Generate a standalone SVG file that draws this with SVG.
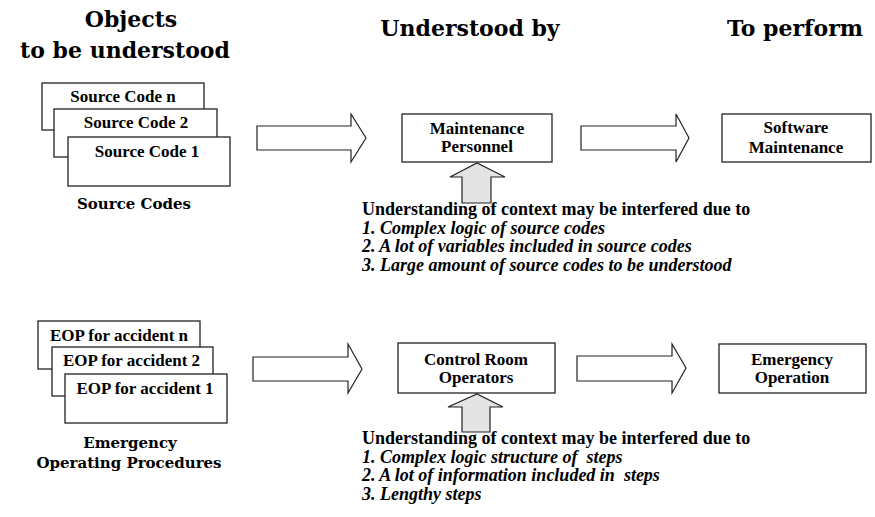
<svg xmlns="http://www.w3.org/2000/svg" width="875" height="517" viewBox="0 0 875 517">
<rect x="0" y="0" width="875" height="517" fill="#ffffff"/>

<g id="headings">
<text x="131" y="27" font-family="DejaVu Serif" font-weight="bold" font-size="22" text-anchor="middle" fill="#000">Objects</text>
<text x="125" y="58" font-family="DejaVu Serif" font-weight="bold" font-size="22" text-anchor="middle" fill="#000">to be understood</text>
<text x="470" y="36" font-family="DejaVu Serif" font-weight="bold" font-size="22" text-anchor="middle" fill="#000">Understood by</text>
<text x="795" y="36" font-family="DejaVu Serif" font-weight="bold" font-size="22" text-anchor="middle" fill="#000">To perform</text>
</g>

<g id="connectors" stroke="#222" stroke-width="1.2">
<path fill="#ffffff" d="M257,126 H351 V114 L366,138 L351,162 V150 H257 Z"/>
<path fill="#ffffff" d="M581,126 H676 V114 L689,138 L676,162 V150 H581 Z"/>
<path fill="#ffffff" d="M253,357 H348 V344 L362,369 L348,393 V381 H253 Z"/>
<path fill="#ffffff" d="M577,356 H672 V344 L686,368 L672,393 V381 H577 Z"/>
<path fill="#e4e4e4" d="M462,203 V177 H450 L477,163 L505,177 H491 V203 Z"/>
<path fill="#e4e4e4" d="M462,432 V407 H448 L477,394 L503,407 H490 V432 Z"/>
</g>

<g id="source-codes">
<rect x="42" y="83" width="162" height="47" fill="#fff" stroke="#222" stroke-width="1.3"/>
<text x="123" y="102" font-family="Liberation Serif" font-weight="bold" font-size="17" text-anchor="middle" fill="#000">Source Code n</text>
<rect x="54" y="109" width="163" height="48" fill="#fff" stroke="#222" stroke-width="1.3"/>
<text x="136" y="128" font-family="Liberation Serif" font-weight="bold" font-size="17" text-anchor="middle" fill="#000">Source Code 2</text>
<rect x="68" y="137" width="162" height="49" fill="#fff" stroke="#222" stroke-width="1.3"/>
<text x="147" y="157" font-family="Liberation Serif" font-weight="bold" font-size="17" text-anchor="middle" fill="#000">Source Code 1</text>
<text x="134" y="209" font-family="DejaVu Serif" font-weight="bold" font-size="15" text-anchor="middle" fill="#000">Source Codes</text>
</g>

<g id="maintenance-personnel">
<rect x="402" y="114" width="150" height="48" fill="#fff" stroke="#222" stroke-width="1.3"/>
<text x="477" y="134" font-family="Liberation Serif" font-weight="bold" font-size="17" text-anchor="middle" fill="#000">Maintenance</text>
<text x="477" y="152" font-family="Liberation Serif" font-weight="bold" font-size="17" text-anchor="middle" fill="#000">Personnel</text>
</g>

<g id="software-maintenance">
<rect x="722" y="114" width="149" height="48" fill="#fff" stroke="#222" stroke-width="1.3"/>
<text x="796" y="133" font-family="Liberation Serif" font-weight="bold" font-size="17" text-anchor="middle" fill="#000">Software</text>
<text x="796" y="153" font-family="Liberation Serif" font-weight="bold" font-size="17" text-anchor="middle" fill="#000">Maintenance</text>
</g>

<g id="note-source">
<text x="362" y="215" font-family="Liberation Serif" font-weight="bold" font-size="18" fill="#000">Understanding of context may be interfered due to</text>
<text x="362" y="233.5" font-family="Liberation Serif" font-weight="bold" font-style="italic" font-size="18" fill="#000">1. Complex logic of source codes</text>
<text x="362" y="252" font-family="Liberation Serif" font-weight="bold" font-style="italic" font-size="18" fill="#000">2. A lot of variables included in source codes</text>
<text x="362" y="270.5" font-family="Liberation Serif" font-weight="bold" font-style="italic" font-size="18" fill="#000">3. Large amount of source codes to be understood</text>
</g>

<g id="eops">
<rect x="38" y="321" width="162" height="48" fill="#fff" stroke="#222" stroke-width="1.3"/>
<text x="119" y="341" font-family="Liberation Serif" font-weight="bold" font-size="17" text-anchor="middle" fill="#000">EOP for accident n</text>
<rect x="52" y="347" width="161" height="49" fill="#fff" stroke="#222" stroke-width="1.3"/>
<text x="131.5" y="366" font-family="Liberation Serif" font-weight="bold" font-size="17" text-anchor="middle" fill="#000">EOP for accident 2</text>
<rect x="65" y="374" width="162" height="49" fill="#fff" stroke="#222" stroke-width="1.3"/>
<text x="145" y="394" font-family="Liberation Serif" font-weight="bold" font-size="17" text-anchor="middle" fill="#000">EOP for accident 1</text>
<text x="130" y="448" font-family="DejaVu Serif" font-weight="bold" font-size="15" text-anchor="middle" fill="#000">Emergency</text>
<text x="129" y="468" font-family="DejaVu Serif" font-weight="bold" font-size="15" text-anchor="middle" fill="#000">Operating Procedures</text>
</g>

<g id="control-room-operators">
<rect x="398" y="343" width="157" height="50" fill="#fff" stroke="#222" stroke-width="1.3"/>
<text x="476" y="365" font-family="Liberation Serif" font-weight="bold" font-size="17" text-anchor="middle" fill="#000">Control Room</text>
<text x="476" y="383" font-family="Liberation Serif" font-weight="bold" font-size="17" text-anchor="middle" fill="#000">Operators</text>
</g>

<g id="emergency-operation">
<rect x="719" y="344" width="147" height="49" fill="#fff" stroke="#222" stroke-width="1.3"/>
<text x="792" y="365" font-family="Liberation Serif" font-weight="bold" font-size="17" text-anchor="middle" fill="#000">Emergency</text>
<text x="792" y="383" font-family="Liberation Serif" font-weight="bold" font-size="17" text-anchor="middle" fill="#000">Operation</text>
</g>

<g id="note-eop">
<text x="362" y="444" font-family="Liberation Serif" font-weight="bold" font-size="18" fill="#000">Understanding of context may be interfered due to</text>
<text x="362" y="462.5" font-family="Liberation Serif" font-weight="bold" font-style="italic" font-size="18" fill="#000">1. Complex logic structure of&#160; steps</text>
<text x="362" y="481" font-family="Liberation Serif" font-weight="bold" font-style="italic" font-size="18" fill="#000">2. A lot of information included in&#160; steps</text>
<text x="362" y="499.5" font-family="Liberation Serif" font-weight="bold" font-style="italic" font-size="18" fill="#000">3. Lengthy steps</text>
</g>
</svg>
